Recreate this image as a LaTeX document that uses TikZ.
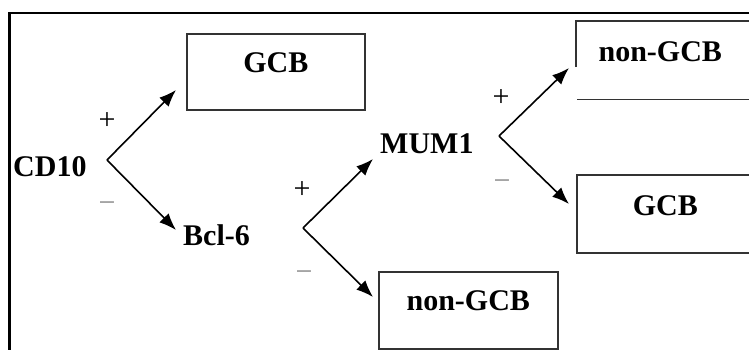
\documentclass[tikz,border=0pt]{standalone}
\usepackage{fontspec}
\setmainfont{Liberation Serif}
\usetikzlibrary{arrows.meta}

\begin{document}
\begin{tikzpicture}[x=1pt,y=-1pt,
	marker/.style={inner sep=0pt,anchor=base west,font=\fontsize{30}{36}\selectfont\bfseries},
	outcome/.style={draw=black!80,line width=1.6pt,inner xsep=0pt,inner ysep=0pt,anchor=north west,
		minimum width=178pt,font=\fontsize{30}{36}\selectfont\bfseries},
	sign/.style={inner sep=0pt,font=\fontsize{30}{36}\selectfont},
	branch/.style={line width=1.6pt,-{Latex[length=17pt,width=13pt]}}]
	\useasboundingbox (0,0) rectangle (749,349);
	\clip (0,0) rectangle (749,349);

	\draw[line width=2.2pt] (9.5,360) -- (9.5,13) -- (760,13);

	\node[marker] (cd10) at (13,176)  {CD10};
	\node[marker] (bcl6) at (183,245) {Bcl-6};
	\node[marker] (mum1) at (380,153) {MUM1};

	\node[outcome,text height=39pt,text depth=37pt] (gcb1) at (186,33)  {GCB};
	\node[outcome,text height=41pt,text depth=37pt,minimum width=177pt] (gcb2) at (576,174) {GCB};
	\node[outcome,text height=39pt,text depth=38pt,minimum width=179pt] (ngcb1) at (378,271) {non-GCB};
	\node[outcome,draw=none,text height=40pt,text depth=37pt,minimum width=167pt] (ngcb2) at (576,21) {non-GCB};
	\draw[draw=black!80,line width=1.6pt] ([yshift=-46pt]ngcb2.north west) -- (ngcb2.north west) -- ++(190,0);
	\draw[draw=black!80,line width=1.6pt] ([xshift=1pt]ngcb2.south west) -- ++(190,0);

	\coordinate (v1) at (107,160);
	\coordinate (v2) at (303,228);
	\coordinate (v3) at (499,136);
	\coordinate (t1) at (176,90);
	\coordinate (t2) at (176,230);
	\coordinate (t3) at (373,159);
	\coordinate (t4) at (373,297);
	\coordinate (t5) at (569,68);
	\coordinate (t6) at (569,204);

	\path[branch] (v1) edge (t1);
	\path[branch] (v1) edge (t2);
	\path[branch] (v2) edge (t3);
	\path[branch] (v2) edge (t4);
	\path[branch] (v3) edge (t5);
	\path[branch] (v3) edge (t6);

	\node[sign] (p1) at (107,121) {+};
	\node[sign,text=black!45] (m1) at (107,207) {−};
	\node[sign] (p2) at (302,190) {+};
	\node[sign,text=black!45] (m2) at (304,276) {−};
	\node[sign] (p3) at (501,98) {+};
	\node[sign,text=black!45] (m3) at (502,185) {−};
\end{tikzpicture}
\end{document}
